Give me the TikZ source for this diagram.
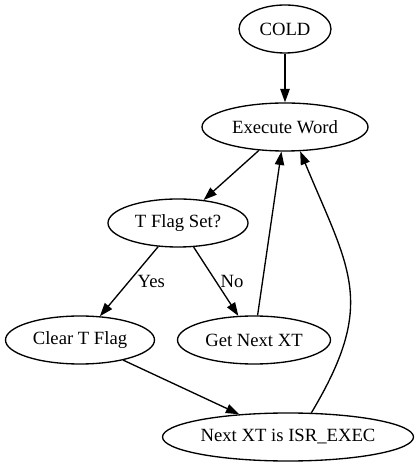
\documentclass[tikz,border=0pt]{standalone}
\usepackage{fontspec}
\setmainfont{Liberation Serif}
\usepackage{tikz}
\usetikzlibrary{arrows.meta,positioning,shapes.geometric}

\begin{document}
\begin{tikzpicture}[x=0.75pt, y=0.75pt]

    % Style for nodes
    \tikzset{
        flownode/.style={ellipse, draw=black, line width=1pt, minimum height=36pt, inner sep=0pt, font=\fontsize{14}{16}\selectfont},
        flowedge/.style={-{Triangle[length=10pt, width=7pt]}, line width=1pt},
        edgelabel/.style={inner sep=0pt, anchor=west, font=\fontsize{14}{16}\selectfont}
    }

    \useasboundingbox (0,0) rectangle (418,467);

    % --- DRAW NODES ---
    \node[flownode, minimum width=69pt] (cold) at (285,438) {COLD};
    \node[flownode, minimum width=124.5pt] (exec) at (285,340) {Execute Word};
    \node[flownode, minimum width=105pt] (tflag) at (178,244) {T Flag Set?};
    \node[flownode, minimum width=111.75pt] (clear) at (80,127) {Clear T Flag};
    \node[flownode, minimum width=114.75pt] (getxt) at (254,127) {Get Next XT};
    \node[flownode, minimum width=188.25pt] (isr) at (288,30) {Next XT is ISR\_EXEC};

    % --- EDGES ---
    \draw[flowedge] (cold) -- (exec);
    \draw[flowedge] (exec) -- (tflag);
    \draw[flowedge] (tflag) -- node[edgelabel, xshift=6pt] {Yes} (clear);
    \draw[flowedge] (tflag) -- node[edgelabel, xshift=3pt] {No} (getxt);
    \draw[flowedge] (getxt) -- (exec);
    \draw[flowedge] (clear) -- (isr);

    % back edge from ISR_EXEC
    \draw[flowedge] (isr.46) .. controls (377,164) and (350,196) .. (exec.-58);

\end{tikzpicture}
\end{document}
